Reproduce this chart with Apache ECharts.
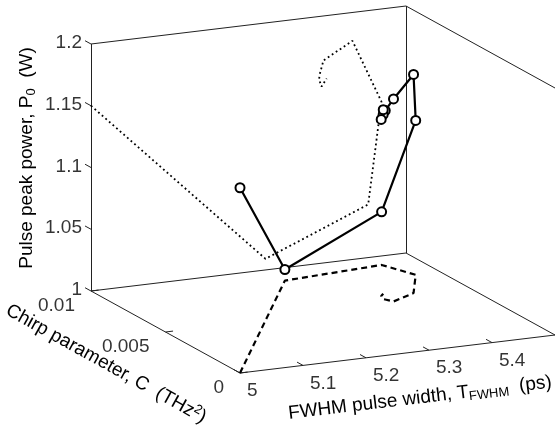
<!DOCTYPE html>
<html>
<head>
<meta charset="utf-8">
<script src="https://cdn.jsdelivr.net/npm/echarts@6/dist/echarts.min.js"></script>
<style>
html, body { margin: 0; padding: 0; background: #fff; }
#main { width: 555px; height: 434px; }
</style>
</head>
<body>
<div id="main"></div>
<script>
// pulse evolution along the fibre: FWHM width (ps), chirp C (THz^2), peak power P0 (W)
var widthPs = [5.000, 5.277, 5.440, 5.461, 5.415, 5.369, 5.363, 5.362, 5.366, 5.374];
var chirp   = [0, 0.0087, 0.0091, 0.0077, 0.0059, 0.0053, 0.0056, 0.0057, 0.0060, 0.0062];
var power   = [1.150, 1.009, 1.043, 1.125, 1.177, 1.164, 1.153, 1.149, 1.143, 1.149];

var widthTicks = [5, 5.1, 5.2, 5.3, 5.4];
var chirpTicks = [0, 0.005, 0.01];
var powerTicks = [1, 1.05, 1.1, 1.15, 1.2];

var tRange = [5, 5.5];
var cRange = [0, 0.01];
var pRange = [1, 1.2];

var FONT = '"Liberation Sans", Arial, Helvetica, sans-serif';

// orthographic view (matlab-like az/el), gives screen units
function proj(t, c, p) {
    var ft = (t - tRange[0]) / (tRange[1] - tRange[0]);
    var fc = (c - cRange[0]) / (cRange[1] - cRange[0]);
    var fp = (p - pRange[0]) / (pRange[1] - pRange[0]);
    return [240 + 315 * ft - 149 * fc, 373 - 38 * ft - 82 * fc - 247 * fp];
}

var t0 = tRange[0], t1 = tRange[1], c0 = cRange[0], c1 = cRange[1], p0 = pRange[0], p1 = pRange[1];

// visible box edges
var edges = [
    [[t0, c1, p0], [t0, c1, p1]],
    [[t0, c1, p1], [t1, c1, p1]],
    [[t1, c1, p0], [t1, c1, p1]],
    [[t1, c1, p1], [t1, c0, p1]],
    [[t1, c0, p0], [t1, c0, p1]],
    [[t0, c1, p0], [t1, c1, p0]],
    [[t1, c1, p0], [t1, c0, p0]],
    [[t0, c1, p0], [t0, c0, p0]],
    [[t0, c0, p0], [t1, c0, p0]]
];
var boxLines = edges.map(function (e) {
    return { coords: [proj.apply(null, e[0]), proj.apply(null, e[1])] };
});

var tickLines = [];
powerTicks.forEach(function (p) {
    tickLines.push({ coords: [proj(t0, c1, p), proj(t0, c1 + 0.0004, p)] });
});
chirpTicks.forEach(function (c) {
    tickLines.push({ coords: [proj(t0, c, p0), proj(t0 + 0.012, c, p0)] });
});
widthTicks.forEach(function (t) {
    tickLines.push({ coords: [proj(t, c0, p0), proj(t, c0 + 0.0004, p0)] });
});

var curve = [], wallProj = [], floorProj = [];
for (var i = 0; i < widthPs.length; i++) {
    curve.push(proj(widthPs[i], chirp[i], power[i]));
    wallProj.push(proj(widthPs[i], c1, power[i]));   // onto back wall C = 0.01
    floorProj.push(proj(widthPs[i], chirp[i], p0));  // onto floor P0 = 1
}

var powerLbl = powerTicks.map(function (p) { return proj(t0, c1, p).concat(String(p)); });
var chirpLbl = chirpTicks.map(function (c) { return proj(t0, c, p0).concat(String(c)); });
var widthLbl = widthTicks.map(function (t) { return proj(t, c0, p0).concat(String(t)); });

function tickText(data, pos, align) {
    return {
        type: 'scatter', data: data, symbolSize: 0, silent: true,
        label: {
            show: true, position: pos, align: align, verticalAlign: 'middle',
            formatter: function (d) { return d.value[2]; },
            color: '#000', fontSize: 19, fontFamily: FONT
        }
    };
}

var chart = echarts.init(document.getElementById('main'));
chart.setOption({
    backgroundColor: '#fff',
    animation: false,
    grid: { left: 0, right: 0, top: 0, bottom: 0 },
    xAxis: { type: 'value', min: 0, max: 555, show: false },
    yAxis: { type: 'value', min: 0, max: 434, inverse: true, show: false },
    series: [
        {
            type: 'lines', coordinateSystem: 'cartesian2d', data: boxLines, silent: true,
            lineStyle: { color: '#222', width: 1, opacity: 1 }
        },
        {
            type: 'lines', coordinateSystem: 'cartesian2d', data: tickLines, silent: true,
            lineStyle: { color: '#222', width: 1, opacity: 1 }
        },
        {
            name: 'wall', type: 'line', data: wallProj, symbol: 'none',
            lineStyle: { color: '#000', width: 1.8, type: [1.8, 3] }
        },
        {
            name: 'floor', type: 'line', data: floorProj, symbol: 'none',
            lineStyle: { color: '#000', width: 2.2, type: [6, 4] }
        },
        {
            name: 'curve', type: 'line', data: curve, symbol: 'circle', symbolSize: 9,
            itemStyle: { color: '#fff', borderColor: '#000', borderWidth: 2 },
            lineStyle: { color: '#000', width: 2.2 }
        },
        tickText(powerLbl, [-9, -1], 'right'),
        tickText(chirpLbl, [-16, 15], 'right'),
        tickText(widthLbl, [7, 18], 'left')
    ],
    graphic: [
        {
            type: 'text', x: 27, y: 158, rotation: Math.PI / 2,
            style: {
                text: '{n|Pulse peak power, P}{s|0}{n|  (W)}',
                align: 'center', verticalAlign: 'middle',
                rich: {
                    n: { fontSize: 19, fontFamily: FONT, lineHeight: 22 },
                    s: { fontSize: 13, fontFamily: FONT, lineHeight: 10, verticalAlign: 'bottom' }
                }
            }
        },
        {
            type: 'text', x: 106, y: 364, rotation: -29 * Math.PI / 180,
            style: {
                text: '{n|Chirp parameter, C  (THz}{u|2}{n|)}',
                align: 'center', verticalAlign: 'middle',
                rich: {
                    n: { fontSize: 19, fontFamily: FONT, lineHeight: 22 },
                    u: { fontSize: 13, fontFamily: FONT, lineHeight: 10, verticalAlign: 'top' }
                }
            }
        },
        {
            type: 'text', x: 420, y: 398, rotation: 6.8 * Math.PI / 180,
            style: {
                text: '{n|FWHM pulse width, T}{s|FWHM}{n|  (ps)}',
                align: 'center', verticalAlign: 'middle',
                rich: {
                    n: { fontSize: 19, fontFamily: FONT, lineHeight: 22 },
                    s: { fontSize: 13, fontFamily: FONT, lineHeight: 10, verticalAlign: 'bottom' }
                }
            }
        }
    ]
});
</script>
</body>
</html>
